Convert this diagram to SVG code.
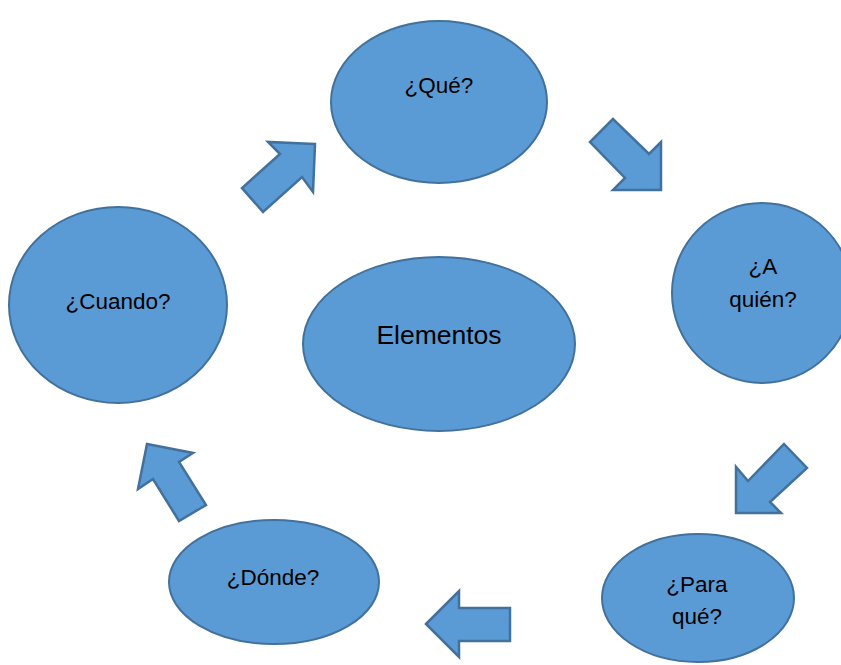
<svg xmlns="http://www.w3.org/2000/svg" width="841" height="665" viewBox="0 0 841 665">
<style>
.n{fill:#5B9BD5;stroke:#41719C;stroke-width:2}
.a{fill:#5B9BD5;stroke:#41719C;stroke-width:2.5;stroke-linejoin:miter}
text{font-family:"Liberation Sans",Arial,sans-serif;font-size:22.5px;fill:#000;text-anchor:middle}
</style>
<rect width="841" height="665" fill="#fff"/>
<g id="que"><ellipse class="n" cx="439" cy="102" rx="108" ry="81"/><text x="439" y="93">¿Qué?</text></g>
<g id="aquien"><ellipse class="n" cx="762" cy="293" rx="90" ry="90"/><text x="763" y="274">¿A</text><text x="763" y="307">quién?</text></g>
<g id="paraque"><ellipse class="n" cx="698" cy="598" rx="96" ry="64"/><text x="697" y="592">¿Para</text><text x="697" y="624">qué?</text></g>
<g id="donde"><ellipse class="n" cx="274" cy="582" rx="105" ry="62"/><text x="273" y="585">¿Dónde?</text></g>
<g id="cuando"><ellipse class="n" cx="118" cy="305" rx="109" ry="98"/><text x="118" y="309">¿Cuando?</text></g>
<g id="elementos"><ellipse class="n" cx="439" cy="344" rx="136" ry="87"/><text x="439" y="344" style="font-size:26.5px">Elementos</text></g>
<g id="connectors">
<polygon class="a" points="613,119 590,142 625,178 613,190 661,190 661,142 649,154"/>
<polygon class="a" points="784,444 807,468 770,502 781,513 736,513 736,467 748,481"/>
<polygon class="a" points="426,624 459,591 459,608 510,608 510,641 459,641 459,657"/>
<polygon class="a" points="147,444 193,453 179,462 206,505 179,521 153,479 138,489"/>
<polygon class="a" points="315,144 268,142 280,154 242,188 263,212 302,177 313,192"/>
</g>
</svg>
